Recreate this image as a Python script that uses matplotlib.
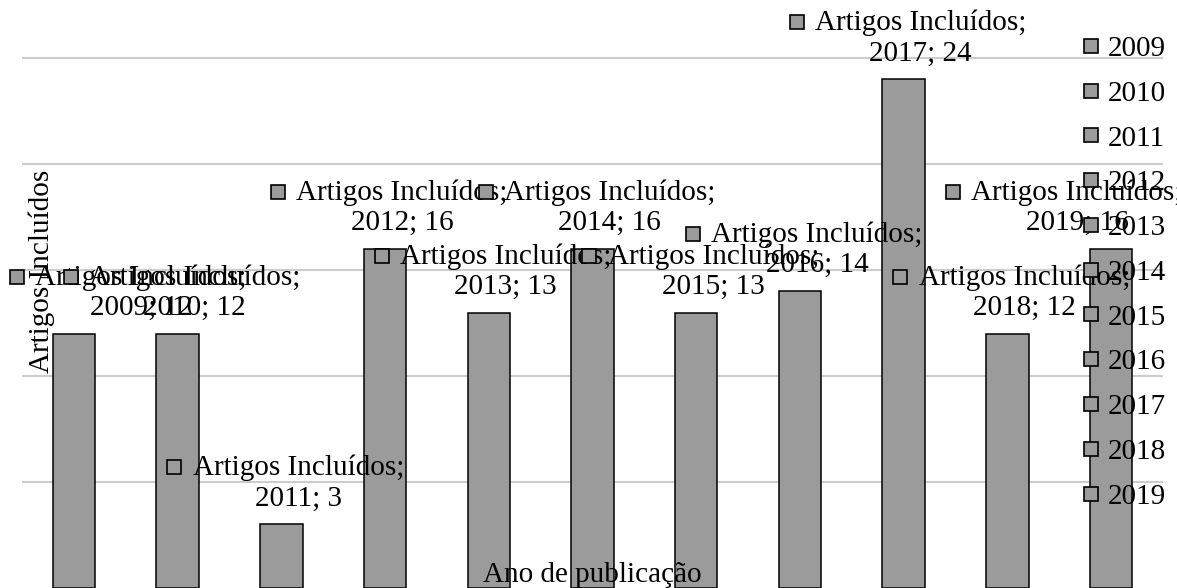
import numpy as np
import matplotlib
matplotlib.use("Agg")
import matplotlib.pyplot as plt
from matplotlib.lines import Line2D
from matplotlib.transforms import IdentityTransform

# data
years = ["2009", "2010", "2011", "2012", "2013", "2014",
         "2015", "2016", "2017", "2018", "2019"]
artigos = [12, 12, 3, 16, 13, 16, 13, 14, 24, 12, 16]
series_name = "Artigos Incluídos"
x_title = "Ano de publicação"

BAR_GRAY = "#9b9b9b"
FONT = ["Liberation Serif", "DejaVu Serif"]
FS = 21

plt.rcParams["font.family"] = FONT

W, H = 1177, 588
fig = plt.figure(figsize=(W / 100, H / 100), dpi=100)
ax = fig.add_axes([22 / W, 0, (1163 - 22) / W, 1])

x = np.arange(len(years))
ax.bar(x, artigos, width=0.41, color=BAR_GRAY, edgecolor="black",
       linewidth=1.1, zorder=2)
ax.set_xlim(-0.5, len(years) - 0.5)
ax.set_ylim(0, 27.75)
ax.set_yticks([5, 10, 15, 20, 25])
ax.grid(axis="y", color="#cccccc", linewidth=1.5, zorder=0)
ax.tick_params(left=False, bottom=False, labelleft=False, labelbottom=False)
for spine in ax.spines.values():
    spine.set_visible(False)

# data labels: legend key + "series; category; value", kept inside the chart
ident = IdentityTransform()
for i, (year, val) in enumerate(zip(years, artigos)):
    bx, by = ax.transData.transform((i, val))
    cx = min(max(bx, 124), 1060)
    ax.text(cx + 17, by + 49, f"{series_name};", ha="center", va="baseline",
            fontsize=FS, transform=ident, zorder=5)
    ax.text(cx + 17, by + 19, f"{year}; {val}", ha="center", va="baseline",
            fontsize=FS, transform=ident, zorder=5)
    ax.plot([cx - 107], [by + 57], marker="s", markersize=9.4,
            markerfacecolor=BAR_GRAY, markeredgecolor="black",
            markeredgewidth=1.2, linestyle="none", transform=ident,
            clip_on=False, zorder=5)

handles = [Line2D([], [], marker="s", linestyle="none", markersize=9.4,
                  markerfacecolor=BAR_GRAY, markeredgecolor="black",
                  markeredgewidth=1.2) for _ in years]
ax.legend(handles, years, loc="upper left", bbox_to_anchor=(1079 / W, 552.5 / H),
          bbox_transform=fig.transFigure, frameon=False, fontsize=FS,
          borderpad=0, handlelength=0.8, handletextpad=0.2, labelspacing=0.63,
          borderaxespad=0)

fig.text(42 / W, 1 - 271 / H, series_name, rotation=90, ha="center",
         va="center", fontsize=FS)
fig.text(592 / W, 6 / H, x_title, ha="center", va="baseline", fontsize=FS)

fig.savefig("out.png", dpi=100)
